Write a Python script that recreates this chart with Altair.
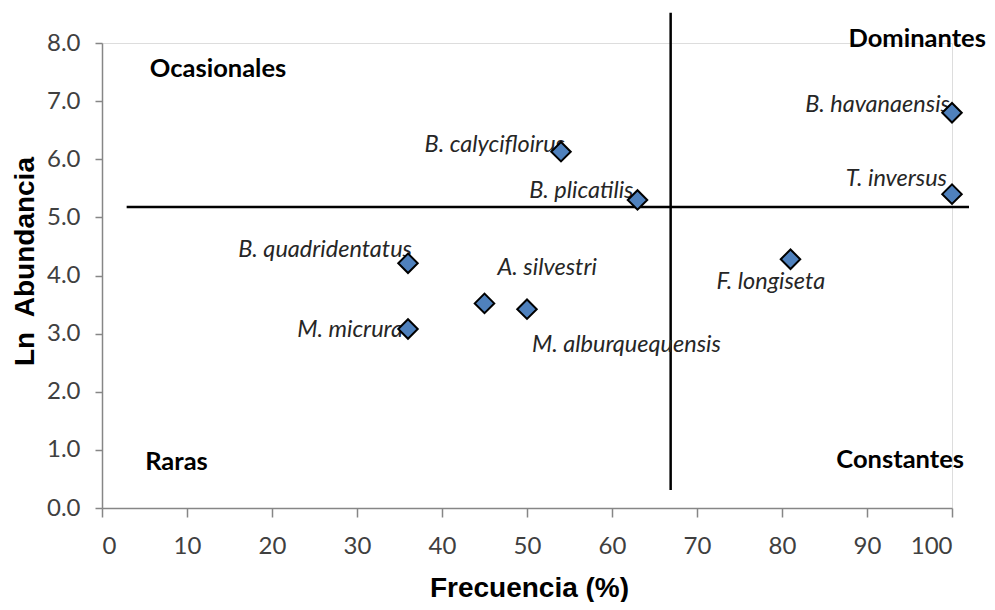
import altair as alt
import pandas as pd

# ---- data ----
species = ["B. calycifloirus", "B. plicatilis", "B. quadridentatus", "M. micrura",
           "A. silvestri", "M. alburquequensis", "F. longiseta", "B. havanaensis", "T. inversus"]
frecuencia = [54, 63, 36, 36, 45, 50, 81, 100, 100]
ln_abundancia = [6.13, 5.30, 4.21, 3.08, 3.52, 3.42, 4.28, 6.80, 5.40]

quadrants = ["Ocasionales", "Dominantes", "Raras", "Constantes"]
quad_x = [13.65, 95.9, 8.76, 93.9]
quad_y = [7.415, 7.93, 0.65, 0.69]

x_ticks = [0, 10, 20, 30, 40, 50, 60, 70, 80, 90, 100]
y_ticks = [0, 1, 2, 3, 4, 5, 6, 7, 8]

# reference lines (data units)
h_line_y = [5.18]
h_line_x = [2.9]
h_line_x2 = [102]
v_line_x = [66.9]
v_line_y = [0.31]
v_line_y2 = [8.52]

# ---- label placement (pixel offsets from each point) ----
label_style = {
    "B. calycifloirus": ("right", 4, 0),
    "B. plicatilis": ("right", -4, -2),
    "B. quadridentatus": ("right", 4, -6),
    "M. micrura": ("right", -5, 8),
    "A. silvestri": ("left", 13, -28),
    "M. alburquequensis": ("left", 5, 43),
    "F. longiseta": ("left", -74, 30),
    "B. havanaensis": ("right", -2, -1),
    "T. inversus": ("right", -5, -8),
}

pts = pd.DataFrame({"species": species, "frec": frecuencia, "lnab": ln_abundancia})
quad = pd.DataFrame({"label": quadrants, "frec": quad_x, "lnab": quad_y})
hl = pd.DataFrame({"frec": h_line_x, "frec2": h_line_x2, "lnab": h_line_y})
vl = pd.DataFrame({"frec": v_line_x, "lnab": v_line_y, "lnab2": v_line_y2})

xscale = alt.Scale(domain=[0, 100], nice=False, zero=False)
yscale = alt.Scale(domain=[0, 8], nice=False, zero=False)

x_axis = alt.Axis(
    values=x_ticks, title="Frecuencia (%)", grid=False,
    tickSize=9, labelPadding=17, labelFont="Lato", labelFontSize=24,
    labelColor="#404040", domainColor="#868686", tickColor="#868686",
    domainWidth=1.5, tickWidth=1.5,
    titleFont="Liberation Sans", titleFontSize=28, titleFontWeight="bold",
    titleColor="black", titleX=427, titleY=88, titleBaseline="alphabetic",
    titleAlign="center",
)
y_axis = alt.Axis(
    values=y_ticks, format=".1f", title="Ln\u00a0 Abundancia", grid=False,
    tickSize=7, labelPadding=15, labelFont="Lato", labelFontSize=24,
    labelColor="#404040", domainColor="#868686", tickColor="#868686",
    domainWidth=1.5, tickWidth=1.5,
    titleFont="Liberation Sans", titleFontSize=28, titleFontWeight="bold",
    titleColor="black", titleAngle=-90, titleX=-69, titleY=218,
    titleBaseline="alphabetic", titleAlign="center",
)

X = lambda f: alt.X(f"{f}:Q", scale=xscale, axis=x_axis)
Y = lambda f: alt.Y(f"{f}:Q", scale=yscale, axis=y_axis)

hrule = alt.Chart(hl).mark_rule(color="black", strokeWidth=2.5).encode(
    x=X("frec"), x2="frec2:Q", y=Y("lnab"))
vrule = alt.Chart(vl).mark_rule(color="black", strokeWidth=2.5).encode(
    x=X("frec"), y=Y("lnab"), y2="lnab2:Q")

points = alt.Chart(pts).mark_point(
    shape="diamond", filled=True, size=380, fill="#4F81BD",
    stroke="black", strokeWidth=2, opacity=1
).encode(x=X("frec"), y=Y("lnab"))

label_layers = []
for sp in species:
    align, dx, dy = label_style[sp]
    label_layers.append(
        alt.Chart(pts).transform_filter(alt.datum.species == sp).mark_text(
            align=align, baseline="alphabetic", dx=dx, dy=dy,
            font="Lato", fontSize=23.5, fontStyle="italic", color="#262626"
        ).encode(x=X("frec"), y=Y("lnab"), text="species:N")
    )

quad_text = alt.Chart(quad).mark_text(
    align="center", baseline="alphabetic", font="Lato", fontSize=25.5,
    fontWeight="bold", color="black"
).encode(x=X("frec"), y=Y("lnab"), text="label:N")

chart = alt.layer(hrule, vrule, *label_layers, points, quad_text).properties(
    width=850, height=465,
    autosize=alt.AutoSizeParams(type="none"),
    padding={"left": 94, "top": 35, "right": 35, "bottom": 94},
).configure_view(stroke=None).configure(background="white")

chart.save("out.html", embed_options={"renderer": "svg", "actions": False})
